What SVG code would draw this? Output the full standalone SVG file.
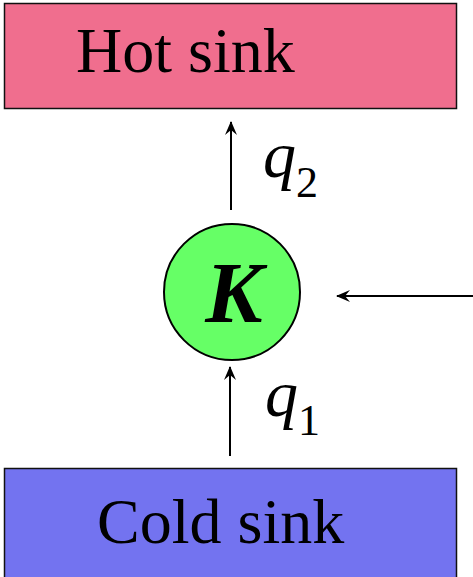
<svg xmlns="http://www.w3.org/2000/svg" width="473" height="577" viewBox="0 0 473 577">
<style>
.lbl{font-family:"Liberation Serif","Times New Roman",serif;fill:#000}
.edge{stroke:#000;stroke-width:2;fill:none}
</style>
<defs>
<marker id="ah" viewBox="0 0 14 12" refX="13" refY="6" markerWidth="14" markerHeight="12" markerUnits="userSpaceOnUse" orient="auto">
<path d="M14,6 L0,0 L5,6 L0,12 Z" fill="#000"/>
</marker>
</defs>
<g id="hot">
<rect x="4.5" y="3.5" width="452" height="105" fill="#F06E8E" stroke="#111" stroke-width="1.5"/>
<text class="lbl" x="76" y="72" font-size="64">Hot sink</text>
</g>
<g id="cold">
<rect x="4.5" y="468.5" width="452" height="115" fill="#7373F0" stroke="#111" stroke-width="1.5"/>
<text class="lbl" x="97" y="543" font-size="64">Cold sink</text>
</g>
<g id="K">
<circle cx="232" cy="292" r="68" fill="#66FF66" stroke="#000" stroke-width="2"/>
<text class="lbl" x="234" y="322" font-size="86" font-weight="bold" font-style="italic" text-anchor="middle">K</text>
</g>
<g id="connectors">
<line class="edge" x1="231" y1="210" x2="231" y2="122" marker-end="url(#ah)"/>
<line class="edge" x1="230" y1="456" x2="230" y2="367" marker-end="url(#ah)"/>
<line class="edge" x1="473" y1="296" x2="337" y2="296" marker-end="url(#ah)"/>
</g>
<g id="labels">
<text class="lbl" x="263" y="177" font-size="66" font-style="italic">q<tspan font-style="normal" font-size="44" dy="20">2</tspan></text>
<text class="lbl" x="265" y="416" font-size="66" font-style="italic">q<tspan font-style="normal" font-size="44" dy="19">1</tspan></text>
</g>
</svg>
